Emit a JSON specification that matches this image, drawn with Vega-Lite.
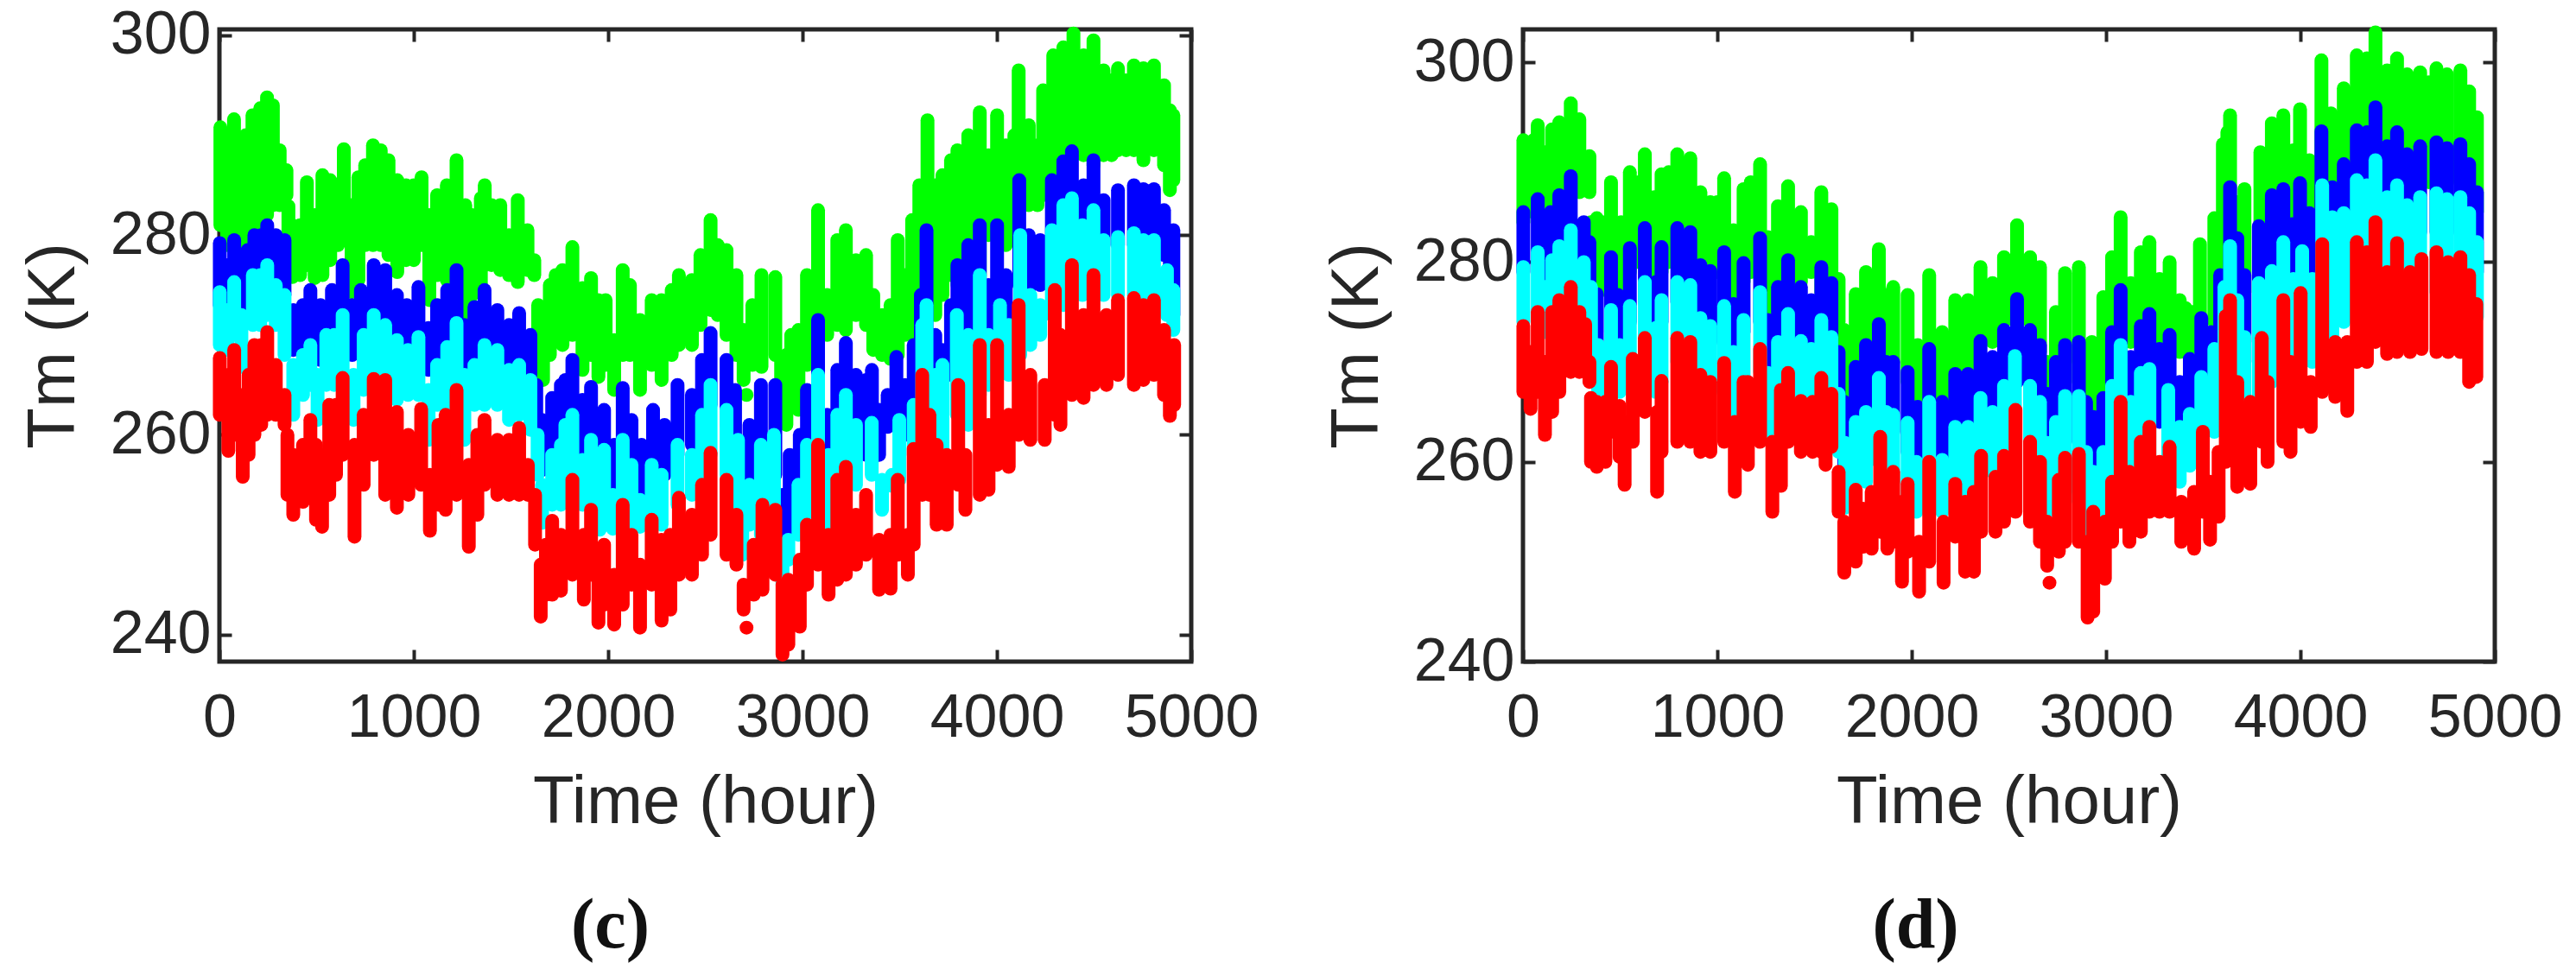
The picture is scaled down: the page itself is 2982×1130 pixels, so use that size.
{"$schema":"https://vega.github.io/schema/vega-lite/v6.json","background":"white","padding":{"left":20,"top":3,"right":0,"bottom":0},"spacing":69,"config":{"view":{"stroke":"#262626","strokeWidth":5},"axis":{"grid":false,"labelFont":"Liberation Sans","titleFont":"Liberation Sans","labelFontSize":70,"titleFontSize":78,"labelColor":"#262626","titleColor":"#262626","titleFontWeight":"normal","domain":false,"tickColor":"#262626","tickWidth":4,"tickSize":-14,"labelFlush":false,"labelOverlap":false,"format":"d"}},
"datasets":{"c":[
{"s":"g","t":5,"l":281,"h":290.8},{"s":"g","t":40,"l":279,"h":290},{"s":"g","t":75,"l":280,"h":291.6},{"s":"g","t":110,"l":278,"h":287.5},{"s":"g","t":135,"l":277,"h":290},{"s":"g","t":170,"l":279,"h":292},{"s":"g","t":210,"l":281,"h":292.7},{"s":"g","t":245,"l":282,"h":293.8},{"s":"g","t":275,"l":283,"h":293},{"s":"g","t":310,"l":283,"h":288.5},{"s":"g","t":345,"l":284,"h":286.5},{"s":"g","t":355,"l":279,"h":282.9},{"s":"g","t":375,"l":275.8,"h":281},{"s":"g","t":415,"l":276,"h":281},{"s":"g","t":450,"l":277,"h":285.3},{"s":"g","t":490,"l":275.7,"h":282},{"s":"g","t":530,"l":276,"h":286},{"s":"g","t":570,"l":277.5,"h":285.5},{"s":"g","t":610,"l":279,"h":284.5},{"s":"g","t":640,"l":279.5,"h":288.6},{"s":"g","t":680,"l":274.3,"h":283},{"s":"g","t":715,"l":275.5,"h":285.8},{"s":"g","t":750,"l":279,"h":287},{"s":"g","t":790,"l":279,"h":289},{"s":"g","t":830,"l":279,"h":288.5},{"s":"g","t":870,"l":278,"h":287.5},{"s":"g","t":915,"l":276.3,"h":285.5},{"s":"g","t":960,"l":277.5,"h":285},{"s":"g","t":1000,"l":277.5,"h":285},{"s":"g","t":1040,"l":279,"h":285.8},{"s":"g","t":1080,"l":273.5,"h":282},{"s":"g","t":1120,"l":276,"h":284},{"s":"g","t":1170,"l":275.5,"h":285},{"s":"g","t":1220,"l":277,"h":287.5},{"s":"g","t":1265,"l":271.8,"h":283},{"s":"g","t":1300,"l":274,"h":282},{"s":"g","t":1345,"l":274.5,"h":283.7},{"s":"g","t":1365,"l":277,"h":285},{"s":"g","t":1400,"l":277,"h":283},{"s":"g","t":1445,"l":276.5,"h":283},{"s":"g","t":1490,"l":276,"h":280},{"s":"g","t":1535,"l":275.3,"h":283.5},{"s":"g","t":1585,"l":276.5,"h":280.5},{"s":"g","t":1620,"l":276,"h":277.5},{"s":"g","t":1640,"l":268,"h":273},{"s":"g","t":1665,"l":265.5,"h":272},{"s":"g","t":1700,"l":268,"h":275},{"s":"g","t":1730,"l":269.5,"h":276},{"s":"g","t":1765,"l":269,"h":276.5},{"s":"g","t":1816,"l":270,"h":278.8},{"s":"g","t":1868,"l":266.5,"h":274.7},{"s":"g","t":1912,"l":268,"h":275.7},{"s":"g","t":1950,"l":265.8,"h":273.5},{"s":"g","t":1987,"l":267,"h":273.5},{"s":"g","t":2031,"l":264.5,"h":269.5},{"s":"g","t":2075,"l":268,"h":276.5},{"s":"g","t":2112,"l":268,"h":275},{"s":"g","t":2164,"l":264.5,"h":271.5},{"s":"g","t":2224,"l":267,"h":273.5},{"s":"g","t":2275,"l":265.5,"h":273.5},{"s":"g","t":2327,"l":268,"h":274.5},{"s":"g","t":2364,"l":269,"h":276},{"s":"g","t":2431,"l":269,"h":275.5},{"s":"g","t":2475,"l":271,"h":278},{"s":"g","t":2527,"l":272.5,"h":281.5},{"s":"g","t":2564,"l":272,"h":279},{"s":"g","t":2609,"l":270,"h":278.5},{"s":"g","t":2660,"l":268,"h":276},{"s":"g","t":2697,"l":265.5,"h":270.5},{"s":"g","t":2712,"l":264,"h":264},{"s":"g","t":2742,"l":267,"h":273},{"s":"g","t":2789,"l":266.8,"h":276},{"s":"g","t":2860,"l":268,"h":275.8},{"s":"g","t":2890,"l":264,"h":267.5},{"s":"g","t":2917,"l":261,"h":268},{"s":"g","t":2942,"l":263,"h":270},{"s":"g","t":2979,"l":262.5,"h":270.5},{"s":"g","t":3023,"l":267,"h":276},{"s":"g","t":3080,"l":269,"h":282.5},{"s":"g","t":3127,"l":270,"h":274},{"s":"g","t":3179,"l":271,"h":279.5},{"s":"g","t":3223,"l":270.5,"h":280.5},{"s":"g","t":3275,"l":272,"h":277.5},{"s":"g","t":3327,"l":271,"h":278},{"s":"g","t":3364,"l":268.5,"h":274},{"s":"g","t":3409,"l":268,"h":272},{"s":"g","t":3453,"l":267.6,"h":273},{"s":"g","t":3490,"l":268,"h":279.5},{"s":"g","t":3527,"l":270,"h":276},{"s":"g","t":3564,"l":270,"h":281.5},{"s":"g","t":3601,"l":271,"h":285},{"s":"g","t":3643,"l":272,"h":291.5},{"s":"g","t":3683,"l":272,"h":285},{"s":"g","t":3720,"l":274,"h":286},{"s":"g","t":3764,"l":276,"h":287.5},{"s":"g","t":3797,"l":275,"h":288.5},{"s":"g","t":3853,"l":278,"h":290},{"s":"g","t":3912,"l":276,"h":292.3},{"s":"g","t":3957,"l":280,"h":288},{"s":"g","t":4001,"l":280,"h":292},{"s":"g","t":4046,"l":279,"h":289},{"s":"g","t":4090,"l":281,"h":290},{"s":"g","t":4112,"l":282,"h":296.5},{"s":"g","t":4164,"l":283,"h":291},{"s":"g","t":4209,"l":283,"h":289},{"s":"g","t":4238,"l":284,"h":294.5},{"s":"g","t":4290,"l":284,"h":298},{"s":"g","t":4342,"l":286,"h":298.8},{"s":"g","t":4394,"l":288,"h":300.2},{"s":"g","t":4446,"l":288,"h":298},{"s":"g","t":4497,"l":287,"h":299.5},{"s":"g","t":4549,"l":288,"h":296.5},{"s":"g","t":4590,"l":288,"h":295.5},{"s":"g","t":4623,"l":288.5,"h":296.7},{"s":"g","t":4665,"l":288.5,"h":295.5},{"s":"g","t":4705,"l":288.5,"h":297},{"s":"g","t":4754,"l":287.5,"h":296.7},{"s":"g","t":4808,"l":288.5,"h":297},{"s":"g","t":4860,"l":287,"h":295},{"s":"g","t":4890,"l":284.5,"h":292.5},{"s":"g","t":4908,"l":285.5,"h":292},
{"s":"b","t":2,"l":273,"h":279.2},{"s":"b","t":40,"l":273,"h":277},{"s":"b","t":76,"l":274,"h":279.5},{"s":"b","t":113,"l":272,"h":275.6},{"s":"b","t":145,"l":273,"h":278.5},{"s":"b","t":180,"l":274,"h":280},{"s":"b","t":215,"l":274,"h":280},{"s":"b","t":246,"l":275,"h":281},{"s":"b","t":290,"l":275,"h":280},{"s":"b","t":335,"l":274,"h":279.5},{"s":"b","t":380,"l":268.5,"h":272.5},{"s":"b","t":430,"l":269,"h":273},{"s":"b","t":468,"l":269,"h":274.5},{"s":"b","t":520,"l":267.5,"h":273},{"s":"b","t":579,"l":270,"h":274.5},{"s":"b","t":634,"l":271,"h":277},{"s":"b","t":683,"l":268,"h":273},{"s":"b","t":728,"l":269,"h":274.5},{"s":"b","t":794,"l":270,"h":277},{"s":"b","t":853,"l":271,"h":276.5},{"s":"b","t":913,"l":268.5,"h":274},{"s":"b","t":964,"l":269,"h":273},{"s":"b","t":1024,"l":269,"h":274.8},{"s":"b","t":1076,"l":266.5,"h":270.7},{"s":"b","t":1120,"l":268,"h":273},{"s":"b","t":1172,"l":268,"h":274.5},{"s":"b","t":1220,"l":270,"h":276.5},{"s":"b","t":1260,"l":264.8,"h":271},{"s":"b","t":1312,"l":267.5,"h":272.8},{"s":"b","t":1364,"l":269,"h":274.5},{"s":"b","t":1430,"l":268,"h":272.5},{"s":"b","t":1490,"l":267.5,"h":271},{"s":"b","t":1542,"l":267.5,"h":272.2},{"s":"b","t":1600,"l":266,"h":270},{"s":"b","t":1630,"l":262,"h":265},{"s":"b","t":1660,"l":256.5,"h":261.5},{"s":"b","t":1712,"l":258,"h":263.7},{"s":"b","t":1757,"l":258,"h":265},{"s":"b","t":1780,"l":260,"h":265.5},{"s":"b","t":1816,"l":260,"h":267.5},{"s":"b","t":1868,"l":258.5,"h":263.5},{"s":"b","t":1912,"l":258,"h":264.8},{"s":"b","t":1979,"l":258.5,"h":262.5},{"s":"b","t":2031,"l":251.5,"h":259},{"s":"b","t":2075,"l":258,"h":264.7},{"s":"b","t":2120,"l":256,"h":261.5},{"s":"b","t":2172,"l":254.5,"h":259},{"s":"b","t":2231,"l":256,"h":262.5},{"s":"b","t":2290,"l":256,"h":261},{"s":"b","t":2357,"l":258,"h":265},{"s":"b","t":2431,"l":259,"h":264},{"s":"b","t":2483,"l":261,"h":267.5},{"s":"b","t":2527,"l":263,"h":270.2},{"s":"b","t":2609,"l":261,"h":267.5},{"s":"b","t":2653,"l":258,"h":264.5},{"s":"b","t":2683,"l":253,"h":258},{"s":"b","t":2727,"l":256,"h":261},{"s":"b","t":2786,"l":256,"h":265},{"s":"b","t":2860,"l":256,"h":265},{"s":"b","t":2897,"l":248.5,"h":254},{"s":"b","t":2934,"l":250,"h":258},{"s":"b","t":2986,"l":252,"h":260},{"s":"b","t":3023,"l":256,"h":264.5},{"s":"b","t":3080,"l":258,"h":271.5},{"s":"b","t":3127,"l":255,"h":262},{"s":"b","t":3179,"l":257,"h":266.5},{"s":"b","t":3223,"l":258,"h":269.2},{"s":"b","t":3275,"l":258,"h":266},{"s":"b","t":3327,"l":258,"h":265.5},{"s":"b","t":3357,"l":259,"h":266.5},{"s":"b","t":3394,"l":258,"h":262.5},{"s":"b","t":3438,"l":260.8,"h":264},{"s":"b","t":3483,"l":262,"h":267.8},{"s":"b","t":3527,"l":260,"h":265},{"s":"b","t":3572,"l":263,"h":269},{"s":"b","t":3609,"l":266,"h":274},{"s":"b","t":3638,"l":270,"h":280.5},{"s":"b","t":3683,"l":265,"h":270},{"s":"b","t":3720,"l":264,"h":268.5},{"s":"b","t":3764,"l":266,"h":273},{"s":"b","t":3797,"l":268,"h":277},{"s":"b","t":3853,"l":268,"h":279},{"s":"b","t":3912,"l":270,"h":281},{"s":"b","t":3957,"l":270,"h":275},{"s":"b","t":4001,"l":272,"h":281},{"s":"b","t":4046,"l":271,"h":276},{"s":"b","t":4115,"l":275,"h":285.5},{"s":"b","t":4164,"l":274,"h":280},{"s":"b","t":4223,"l":275,"h":279.5},{"s":"b","t":4283,"l":277,"h":285.5},{"s":"b","t":4342,"l":279,"h":287.4},{"s":"b","t":4386,"l":280,"h":288.4},{"s":"b","t":4446,"l":280,"h":285},{"s":"b","t":4497,"l":279,"h":287.5},{"s":"b","t":4549,"l":279,"h":283.5},{"s":"b","t":4623,"l":279,"h":284.5},{"s":"b","t":4705,"l":279,"h":285},{"s":"b","t":4754,"l":279,"h":284.6},{"s":"b","t":4808,"l":279,"h":284.6},{"s":"b","t":4860,"l":278,"h":282.5},{"s":"b","t":4890,"l":276,"h":279.5},{"s":"b","t":4908,"l":272,"h":280.5},
{"s":"c","t":2,"l":269,"h":274.3},{"s":"c","t":40,"l":268.5,"h":272.5},{"s":"c","t":76,"l":270,"h":275.3},{"s":"c","t":113,"l":266.8,"h":272},{"s":"c","t":172,"l":271,"h":276},{"s":"c","t":210,"l":271,"h":276},{"s":"c","t":246,"l":272,"h":277},{"s":"c","t":290,"l":271,"h":275},{"s":"c","t":335,"l":268,"h":274},{"s":"c","t":380,"l":262,"h":267},{"s":"c","t":430,"l":264,"h":268},{"s":"c","t":468,"l":265,"h":269},{"s":"c","t":505,"l":261.5,"h":266},{"s":"c","t":550,"l":265,"h":270},{"s":"c","t":590,"l":265,"h":270},{"s":"c","t":634,"l":266,"h":272},{"s":"c","t":690,"l":261.5,"h":266},{"s":"c","t":742,"l":264.5,"h":270},{"s":"c","t":794,"l":266,"h":272},{"s":"c","t":853,"l":265,"h":271},{"s":"c","t":913,"l":263.5,"h":269.5},{"s":"c","t":970,"l":264,"h":268.5},{"s":"c","t":1024,"l":264,"h":269.8},{"s":"c","t":1076,"l":259.5,"h":264.5},{"s":"c","t":1120,"l":263,"h":267},{"s":"c","t":1172,"l":263,"h":268.8},{"s":"c","t":1220,"l":263,"h":271.2},{"s":"c","t":1260,"l":259.5,"h":266},{"s":"c","t":1312,"l":263,"h":267},{"s":"c","t":1364,"l":263,"h":269},{"s":"c","t":1430,"l":263,"h":268.5},{"s":"c","t":1490,"l":261.5,"h":266.5},{"s":"c","t":1542,"l":262,"h":267},{"s":"c","t":1600,"l":260.5,"h":265.5},{"s":"c","t":1637,"l":256,"h":260},{"s":"c","t":1660,"l":251.2,"h":255},{"s":"c","t":1712,"l":253,"h":258},{"s":"c","t":1757,"l":253,"h":259},{"s":"c","t":1780,"l":255,"h":261},{"s":"c","t":1816,"l":256,"h":262},{"s":"c","t":1868,"l":253,"h":257.5},{"s":"c","t":1912,"l":253,"h":259.5},{"s":"c","t":1957,"l":250.5,"h":256},{"s":"c","t":1979,"l":252,"h":258.5},{"s":"c","t":2024,"l":250.6,"h":254},{"s":"c","t":2075,"l":253,"h":259.5},{"s":"c","t":2120,"l":251,"h":257},{"s":"c","t":2164,"l":250.8,"h":253.5},{"s":"c","t":2224,"l":251.5,"h":257},{"s":"c","t":2275,"l":251,"h":256},{"s":"c","t":2357,"l":253,"h":259},{"s":"c","t":2431,"l":254,"h":258},{"s":"c","t":2483,"l":256,"h":262},{"s":"c","t":2527,"l":258,"h":265},{"s":"c","t":2609,"l":256,"h":262.5},{"s":"c","t":2668,"l":253,"h":259.5},{"s":"c","t":2690,"l":248,"h":252},{"s":"c","t":2727,"l":251,"h":255},{"s":"c","t":2786,"l":250,"h":259},{"s":"c","t":2853,"l":251,"h":260},{"s":"c","t":2897,"l":245,"h":249},{"s":"c","t":2927,"l":247.5,"h":249.5},{"s":"c","t":2979,"l":250,"h":255},{"s":"c","t":3023,"l":252,"h":259},{"s":"c","t":3080,"l":254,"h":266},{"s":"c","t":3134,"l":251,"h":258},{"s":"c","t":3179,"l":254,"h":262},{"s":"c","t":3223,"l":255,"h":264},{"s":"c","t":3275,"l":255,"h":261},{"s":"c","t":3356,"l":256,"h":261.2},{"s":"c","t":3409,"l":252.5,"h":255.5},{"s":"c","t":3461,"l":254.9,"h":256},{"s":"c","t":3498,"l":255.5,"h":261.5},{"s":"c","t":3572,"l":258,"h":263},{"s":"c","t":3616,"l":260,"h":271},{"s":"c","t":3638,"l":264,"h":273},{"s":"c","t":3683,"l":258,"h":266},{"s":"c","t":3720,"l":258,"h":267},{"s":"c","t":3794,"l":262,"h":272},{"s":"c","t":3853,"l":261,"h":270},{"s":"c","t":3912,"l":264,"h":276},{"s":"c","t":3957,"l":265,"h":270},{"s":"c","t":4016,"l":267,"h":273},{"s":"c","t":4061,"l":266,"h":271},{"s":"c","t":4120,"l":268,"h":280},{"s":"c","t":4172,"l":269,"h":274},{"s":"c","t":4223,"l":270,"h":273},{"s":"c","t":4283,"l":272,"h":280.5},{"s":"c","t":4342,"l":273,"h":283},{"s":"c","t":4386,"l":275,"h":283.7},{"s":"c","t":4440,"l":274,"h":281},{"s":"c","t":4497,"l":274,"h":282.5},{"s":"c","t":4549,"l":274,"h":279.5},{"s":"c","t":4623,"l":274,"h":279.8},{"s":"c","t":4705,"l":274,"h":280.2},{"s":"c","t":4754,"l":273,"h":279.5},{"s":"c","t":4808,"l":274,"h":279.5},{"s":"c","t":4875,"l":272,"h":276.5},{"s":"c","t":4908,"l":270.5,"h":274.5},
{"s":"r","t":2,"l":262,"h":267.7},{"s":"r","t":46,"l":258.4,"h":266},{"s":"r","t":76,"l":260,"h":268.5},{"s":"r","t":120,"l":255.8,"h":264},{"s":"r","t":150,"l":258,"h":266},{"s":"r","t":180,"l":260,"h":269},{"s":"r","t":215,"l":261,"h":269},{"s":"r","t":246,"l":262,"h":270.3},{"s":"r","t":290,"l":262,"h":267},{"s":"r","t":335,"l":261,"h":264},{"s":"r","t":350,"l":254,"h":260},{"s":"r","t":380,"l":252,"h":258},{"s":"r","t":430,"l":253.3,"h":259},{"s":"r","t":468,"l":256,"h":261.5},{"s":"r","t":497,"l":251.5,"h":259},{"s":"r","t":528,"l":250.8,"h":258},{"s":"r","t":565,"l":254,"h":263},{"s":"r","t":600,"l":256,"h":263},{"s":"r","t":634,"l":258,"h":265.7},{"s":"r","t":695,"l":249.8,"h":259},{"s":"r","t":742,"l":255,"h":262},{"s":"r","t":794,"l":258,"h":265.6},{"s":"r","t":853,"l":254,"h":265.5},{"s":"r","t":913,"l":252.7,"h":262.3},{"s":"r","t":972,"l":254,"h":260},{"s":"r","t":1038,"l":255,"h":262.6},{"s":"r","t":1083,"l":250.4,"h":256},{"s":"r","t":1127,"l":253,"h":261},{"s":"r","t":1164,"l":252.5,"h":262},{"s":"r","t":1220,"l":254,"h":264.5},{"s":"r","t":1283,"l":248.8,"h":257},{"s":"r","t":1327,"l":252,"h":260},{"s":"r","t":1364,"l":255,"h":261.5},{"s":"r","t":1430,"l":254,"h":259.5},{"s":"r","t":1490,"l":254,"h":259.5},{"s":"r","t":1542,"l":254,"h":260.7},{"s":"r","t":1587,"l":254,"h":257},{"s":"r","t":1624,"l":249,"h":254},{"s":"r","t":1653,"l":241.8,"h":247},{"s":"r","t":1680,"l":244,"h":249},{"s":"r","t":1712,"l":244,"h":251.4},{"s":"r","t":1757,"l":244.4,"h":250},{"s":"r","t":1816,"l":246,"h":255.5},{"s":"r","t":1875,"l":243.5,"h":250},{"s":"r","t":1912,"l":246,"h":252.5},{"s":"r","t":1950,"l":241.2,"h":247},{"s":"r","t":1979,"l":243,"h":249},{"s":"r","t":2031,"l":241,"h":246},{"s":"r","t":2075,"l":243,"h":253},{"s":"r","t":2120,"l":245,"h":250},{"s":"r","t":2164,"l":240.7,"h":247},{"s":"r","t":2224,"l":245,"h":251.5},{"s":"r","t":2275,"l":241.4,"h":249.5},{"s":"r","t":2320,"l":242.5,"h":250},{"s":"r","t":2364,"l":246,"h":253.7},{"s":"r","t":2431,"l":246,"h":252},{"s":"r","t":2483,"l":248,"h":255},{"s":"r","t":2527,"l":250,"h":258.2},{"s":"r","t":2609,"l":248,"h":255.5},{"s":"r","t":2660,"l":247,"h":252},{"s":"r","t":2697,"l":242.5,"h":245},{"s":"r","t":2712,"l":240.7,"h":240.7},{"s":"r","t":2749,"l":244,"h":249},{"s":"r","t":2794,"l":244.5,"h":253},{"s":"r","t":2860,"l":246,"h":252.5},{"s":"r","t":2897,"l":238,"h":245},{"s":"r","t":2927,"l":239,"h":245.5},{"s":"r","t":2986,"l":240.8,"h":247.5},{"s":"r","t":3023,"l":245,"h":251},{"s":"r","t":3080,"l":247,"h":259},{"s":"r","t":3134,"l":244,"h":250},{"s":"r","t":3179,"l":245.5,"h":255.5},{"s":"r","t":3223,"l":246,"h":256.8},{"s":"r","t":3275,"l":247,"h":252},{"s":"r","t":3327,"l":248,"h":254},{"s":"r","t":3394,"l":244.5,"h":249.5},{"s":"r","t":3453,"l":244.6,"h":250},{"s":"r","t":3490,"l":248,"h":255.5},{"s":"r","t":3542,"l":246,"h":250},{"s":"r","t":3572,"l":249,"h":258.6},{"s":"r","t":3616,"l":254,"h":266},{"s":"r","t":3653,"l":254,"h":262},{"s":"r","t":3690,"l":251,"h":259},{"s":"r","t":3742,"l":251,"h":258},{"s":"r","t":3801,"l":255,"h":265},{"s":"r","t":3838,"l":252.5,"h":258},{"s":"r","t":3912,"l":254,"h":269},{"s":"r","t":3957,"l":254.5,"h":261},{"s":"r","t":4001,"l":257,"h":269},{"s":"r","t":4061,"l":256.8,"h":262},{"s":"r","t":4112,"l":260,"h":273},{"s":"r","t":4172,"l":259.5,"h":266},{"s":"r","t":4246,"l":259.5,"h":265},{"s":"r","t":4298,"l":262,"h":274.5},{"s":"r","t":4327,"l":261,"h":270},{"s":"r","t":4386,"l":264,"h":277},{"s":"r","t":4446,"l":263.7,"h":272},{"s":"r","t":4497,"l":265,"h":276},{"s":"r","t":4564,"l":265,"h":272},{"s":"r","t":4623,"l":266,"h":273.5},{"s":"r","t":4705,"l":265,"h":273.7},{"s":"r","t":4754,"l":265.5,"h":273},{"s":"r","t":4808,"l":266,"h":273.5},{"s":"r","t":4860,"l":264,"h":270.5},{"s":"r","t":4890,"l":261.9,"h":267},{"s":"r","t":4912,"l":263,"h":269}
],"d":[
{"s":"g","t":2,"l":284,"h":292.2},{"s":"g","t":54,"l":285,"h":292.2},{"s":"g","t":76,"l":286,"h":293.7},{"s":"g","t":113,"l":284,"h":291},{"s":"g","t":150,"l":284,"h":293.3},{"s":"g","t":187,"l":285,"h":294},{"s":"g","t":246,"l":287,"h":295.9},{"s":"g","t":290,"l":287,"h":294.3},{"s":"g","t":342,"l":287,"h":290.6},{"s":"g","t":350,"l":277,"h":284},{"s":"g","t":380,"l":278,"h":284.4},{"s":"g","t":424,"l":277.2,"h":284},{"s":"g","t":453,"l":279,"h":288},{"s":"g","t":505,"l":276.5,"h":284},{"s":"g","t":550,"l":279,"h":289},{"s":"g","t":594,"l":280,"h":288},{"s":"g","t":627,"l":281,"h":290.8},{"s":"g","t":676,"l":278,"h":286.5},{"s":"g","t":713,"l":279,"h":288.8},{"s":"g","t":750,"l":280,"h":289},{"s":"g","t":794,"l":281,"h":290.8},{"s":"g","t":861,"l":280,"h":290.4},{"s":"g","t":913,"l":278,"h":287},{"s":"g","t":964,"l":279,"h":286},{"s":"g","t":1000,"l":279,"h":286},{"s":"g","t":1035,"l":279,"h":288.4},{"s":"g","t":1083,"l":276,"h":283.2},{"s":"g","t":1135,"l":278,"h":287.3},{"s":"g","t":1172,"l":279,"h":288},{"s":"g","t":1220,"l":280,"h":289.8},{"s":"g","t":1260,"l":273,"h":282.5},{"s":"g","t":1312,"l":276,"h":285.6},{"s":"g","t":1364,"l":278,"h":287.6},{"s":"g","t":1430,"l":278,"h":285},{"s":"g","t":1483,"l":279,"h":282},{"s":"g","t":1535,"l":277,"h":287},{"s":"g","t":1587,"l":276,"h":285.3},{"s":"g","t":1624,"l":274,"h":278.3},{"s":"g","t":1653,"l":266,"h":273.2},{"s":"g","t":1712,"l":268,"h":276.8},{"s":"g","t":1765,"l":271,"h":279},{"s":"g","t":1831,"l":273,"h":281.3},{"s":"g","t":1868,"l":271,"h":276.7},{"s":"g","t":1905,"l":270,"h":277.5},{"s":"g","t":1979,"l":268,"h":276.7},{"s":"g","t":2031,"l":266,"h":271.7},{"s":"g","t":2090,"l":269,"h":278.7},{"s":"g","t":2157,"l":266,"h":273},{"s":"g","t":2224,"l":268,"h":276.2},{"s":"g","t":2290,"l":268,"h":276.2},{"s":"g","t":2354,"l":272,"h":279.5},{"s":"g","t":2416,"l":272,"h":277.9},{"s":"g","t":2475,"l":274,"h":280.5},{"s":"g","t":2542,"l":275,"h":283.7},{"s":"g","t":2609,"l":274,"h":280.5},{"s":"g","t":2660,"l":271,"h":279.5},{"s":"g","t":2697,"l":266,"h":270},{"s":"g","t":2742,"l":268,"h":275},{"s":"g","t":2789,"l":270,"h":278.9},{"s":"g","t":2860,"l":268,"h":279.5},{"s":"g","t":2897,"l":265,"h":271.5},{"s":"g","t":2927,"l":264,"h":272},{"s":"g","t":2986,"l":266,"h":276.5},{"s":"g","t":3031,"l":270,"h":280.5},{"s":"g","t":3075,"l":272,"h":284.5},{"s":"g","t":3127,"l":272,"h":277.9},{"s":"g","t":3179,"l":273,"h":281},{"s":"g","t":3223,"l":274,"h":282},{"s":"g","t":3275,"l":272,"h":278.3},{"s":"g","t":3327,"l":273,"h":280},{"s":"g","t":3379,"l":271,"h":276.2},{"s":"g","t":3409,"l":271,"h":275.4},{"s":"g","t":3446,"l":271.5,"h":275},{"s":"g","t":3483,"l":273,"h":281.8},{"s":"g","t":3557,"l":274,"h":284.4},{"s":"g","t":3601,"l":275,"h":291.8},{"s":"g","t":3624,"l":275,"h":293},{"s":"g","t":3638,"l":275,"h":294.7},{"s":"g","t":3675,"l":276,"h":286},{"s":"g","t":3712,"l":277,"h":287.3},{"s":"g","t":3794,"l":278,"h":291},{"s":"g","t":3853,"l":278,"h":293.9},{"s":"g","t":3912,"l":280,"h":294.7},{"s":"g","t":3964,"l":281,"h":291.2},{"s":"g","t":3998,"l":282,"h":295.3},{"s":"g","t":4046,"l":283,"h":290.2},{"s":"g","t":4108,"l":286,"h":300.2},{"s":"g","t":4157,"l":284,"h":294.9},{"s":"g","t":4223,"l":287,"h":297.4},{"s":"g","t":4290,"l":288,"h":300.7},{"s":"g","t":4342,"l":288,"h":300.4},{"s":"g","t":4386,"l":289,"h":303},{"s":"g","t":4446,"l":288,"h":299.2},{"s":"g","t":4497,"l":288,"h":300.4},{"s":"g","t":4549,"l":288,"h":298.8},{"s":"g","t":4616,"l":288,"h":299},{"s":"g","t":4660,"l":288,"h":298},{"s":"g","t":4700,"l":288,"h":299.4},{"s":"g","t":4754,"l":288,"h":298.8},{"s":"g","t":4823,"l":288,"h":299.2},{"s":"g","t":4868,"l":286,"h":297.1},{"s":"g","t":4908,"l":285,"h":294.5},
{"s":"b","t":2,"l":279,"h":285},{"s":"b","t":76,"l":280,"h":286.3},{"s":"b","t":113,"l":278,"h":282.4},{"s":"b","t":142,"l":279,"h":285},{"s":"b","t":187,"l":281,"h":286.7},{"s":"b","t":246,"l":282,"h":288.6},{"s":"b","t":313,"l":279,"h":284},{"s":"b","t":342,"l":276,"h":282},{"s":"b","t":380,"l":271,"h":276.8},{"s":"b","t":453,"l":273,"h":280.5},{"s":"b","t":490,"l":271,"h":276.7},{"s":"b","t":550,"l":274,"h":281.4},{"s":"b","t":627,"l":276,"h":283.4},{"s":"b","t":683,"l":272,"h":278},{"s":"b","t":713,"l":274,"h":281.5},{"s":"b","t":794,"l":276,"h":283.4},{"s":"b","t":861,"l":275,"h":283},{"s":"b","t":913,"l":272,"h":279.7},{"s":"b","t":964,"l":272,"h":279.1},{"s":"b","t":1035,"l":274,"h":281},{"s":"b","t":1083,"l":270,"h":275.8},{"s":"b","t":1135,"l":273,"h":279.9},{"s":"b","t":1220,"l":274,"h":282.4},{"s":"b","t":1260,"l":267,"h":274.2},{"s":"b","t":1312,"l":270,"h":277.5},{"s":"b","t":1364,"l":272,"h":280.2},{"s":"b","t":1430,"l":270,"h":277.5},{"s":"b","t":1483,"l":270,"h":276.2},{"s":"b","t":1535,"l":272,"h":279.5},{"s":"b","t":1587,"l":270,"h":277.9},{"s":"b","t":1624,"l":264,"h":271},{"s":"b","t":1653,"l":258,"h":266},{"s":"b","t":1712,"l":262,"h":269.5},{"s":"b","t":1765,"l":264,"h":271.7},{"s":"b","t":1831,"l":266,"h":273.8},{"s":"b","t":1868,"l":264,"h":270},{"s":"b","t":1905,"l":263,"h":270},{"s":"b","t":1979,"l":261,"h":269},{"s":"b","t":2031,"l":257,"h":265.5},{"s":"b","t":2090,"l":263,"h":271.3},{"s":"b","t":2157,"l":258,"h":266},{"s":"b","t":2224,"l":261,"h":268.8},{"s":"b","t":2290,"l":261,"h":268.8},{"s":"b","t":2354,"l":264,"h":272.1},{"s":"b","t":2416,"l":264,"h":270.5},{"s":"b","t":2475,"l":266,"h":273.2},{"s":"b","t":2542,"l":268,"h":276.3},{"s":"b","t":2609,"l":266,"h":273.2},{"s":"b","t":2660,"l":263,"h":271.7},{"s":"b","t":2697,"l":259,"h":266.8},{"s":"b","t":2742,"l":262,"h":270},{"s":"b","t":2789,"l":262,"h":271.7},{"s":"b","t":2860,"l":262,"h":272},{"s":"b","t":2897,"l":256,"h":266},{"s":"b","t":2934,"l":256,"h":264.5},{"s":"b","t":2986,"l":258,"h":266.4},{"s":"b","t":3031,"l":262,"h":273},{"s":"b","t":3075,"l":264,"h":277.2},{"s":"b","t":3127,"l":264,"h":270.5},{"s":"b","t":3179,"l":265,"h":273.6},{"s":"b","t":3223,"l":266,"h":274.8},{"s":"b","t":3275,"l":264,"h":271.3},{"s":"b","t":3327,"l":265,"h":272.7},{"s":"b","t":3379,"l":262,"h":268},{"s":"b","t":3431,"l":262,"h":270.3},{"s":"b","t":3490,"l":265,"h":274.4},{"s":"b","t":3542,"l":266,"h":273},{"s":"b","t":3587,"l":268,"h":278.7},{"s":"b","t":3638,"l":272,"h":287.5},{"s":"b","t":3675,"l":270,"h":282.4},{"s":"b","t":3712,"l":270,"h":278.7},{"s":"b","t":3786,"l":272,"h":283.6},{"s":"b","t":3853,"l":274,"h":286.7},{"s":"b","t":3912,"l":274,"h":287.3},{"s":"b","t":3957,"l":276,"h":283.8},{"s":"b","t":3998,"l":276,"h":287.9},{"s":"b","t":4046,"l":276,"h":284.9},{"s":"b","t":4108,"l":278,"h":293.1},{"s":"b","t":4164,"l":278,"h":287.5},{"s":"b","t":4223,"l":280,"h":289.8},{"s":"b","t":4290,"l":282,"h":293.2},{"s":"b","t":4342,"l":283,"h":293},{"s":"b","t":4386,"l":283,"h":295.5},{"s":"b","t":4446,"l":283,"h":291.6},{"s":"b","t":4497,"l":283,"h":293},{"s":"b","t":4549,"l":283,"h":290.8},{"s":"b","t":4616,"l":283,"h":291.6},{"s":"b","t":4700,"l":283,"h":292},{"s":"b","t":4754,"l":283,"h":291.4},{"s":"b","t":4823,"l":283,"h":291.8},{"s":"b","t":4868,"l":281,"h":289.8},{"s":"b","t":4908,"l":279,"h":287},
{"s":"c","t":2,"l":274,"h":279.5},{"s":"c","t":76,"l":275,"h":281},{"s":"c","t":113,"l":273,"h":277.5},{"s":"c","t":150,"l":274,"h":280.2},{"s":"c","t":187,"l":276,"h":281.6},{"s":"c","t":246,"l":276,"h":283.2},{"s":"c","t":313,"l":275,"h":280},{"s":"c","t":350,"l":271,"h":277.5},{"s":"c","t":387,"l":266,"h":271.7},{"s":"c","t":453,"l":268,"h":275.2},{"s":"c","t":497,"l":267,"h":271.7},{"s":"c","t":550,"l":269,"h":275.6},{"s":"c","t":627,"l":270,"h":278},{"s":"c","t":683,"l":267,"h":273.4},{"s":"c","t":713,"l":268,"h":276.2},{"s":"c","t":794,"l":270,"h":278},{"s":"c","t":861,"l":269,"h":277.7},{"s":"c","t":913,"l":267,"h":274.4},{"s":"c","t":964,"l":267,"h":273.6},{"s":"c","t":1035,"l":268,"h":275.6},{"s":"c","t":1083,"l":265,"h":271},{"s":"c","t":1135,"l":267,"h":274.2},{"s":"c","t":1220,"l":269,"h":277},{"s":"c","t":1260,"l":263,"h":268.9},{"s":"c","t":1312,"l":266,"h":272},{"s":"c","t":1364,"l":267,"h":274.8},{"s":"c","t":1430,"l":266,"h":272.1},{"s":"c","t":1483,"l":266,"h":271.3},{"s":"c","t":1535,"l":267,"h":274.2},{"s":"c","t":1587,"l":266,"h":272.5},{"s":"c","t":1624,"l":261,"h":266.8},{"s":"c","t":1657,"l":255.4,"h":261.9},{"s":"c","t":1712,"l":258,"h":264},{"s":"c","t":1765,"l":258,"h":265},{"s":"c","t":1831,"l":260,"h":268.4},{"s":"c","t":1868,"l":259,"h":265},{"s":"c","t":1905,"l":258,"h":264.7},{"s":"c","t":1979,"l":256,"h":263.9},{"s":"c","t":2024,"l":255,"h":260},{"s":"c","t":2090,"l":258,"h":266},{"s":"c","t":2157,"l":255,"h":260.2},{"s":"c","t":2224,"l":256,"h":263.5},{"s":"c","t":2290,"l":257,"h":263.5},{"s":"c","t":2354,"l":259,"h":266.4},{"s":"c","t":2416,"l":259,"h":265},{"s":"c","t":2475,"l":261,"h":267.6},{"s":"c","t":2531,"l":262,"h":270.6},{"s":"c","t":2609,"l":260,"h":267.6},{"s":"c","t":2660,"l":258,"h":266},{"s":"c","t":2697,"l":255,"h":261.9},{"s":"c","t":2742,"l":256,"h":264},{"s":"c","t":2789,"l":257,"h":266.6},{"s":"c","t":2860,"l":256,"h":266.6},{"s":"c","t":2897,"l":252,"h":261},{"s":"c","t":2934,"l":254,"h":259},{"s":"c","t":2986,"l":254,"h":261},{"s":"c","t":3031,"l":256,"h":267.6},{"s":"c","t":3075,"l":258,"h":271.7},{"s":"c","t":3127,"l":258,"h":266},{"s":"c","t":3179,"l":260,"h":268.9},{"s":"c","t":3223,"l":260,"h":269.3},{"s":"c","t":3320,"l":260,"h":267.2},{"s":"c","t":3379,"l":258,"h":263.5},{"s":"c","t":3431,"l":259.6,"h":264.8},{"s":"c","t":3490,"l":260,"h":268.5},{"s":"c","t":3557,"l":263,"h":271.3},{"s":"c","t":3609,"l":263,"h":277.5},{"s":"c","t":3638,"l":266,"h":281.6},{"s":"c","t":3675,"l":265,"h":276.2},{"s":"c","t":3712,"l":264,"h":272.5},{"s":"c","t":3786,"l":266,"h":277.9},{"s":"c","t":3853,"l":268,"h":279.1},{"s":"c","t":3912,"l":268,"h":282},{"s":"c","t":3964,"l":270,"h":278.3},{"s":"c","t":4009,"l":270,"h":281.1},{"s":"c","t":4061,"l":270,"h":278.3},{"s":"c","t":4112,"l":272,"h":287.7},{"s":"c","t":4164,"l":272,"h":284.5},{"s":"c","t":4223,"l":274,"h":284.9},{"s":"c","t":4290,"l":276,"h":288.2},{"s":"c","t":4342,"l":276,"h":287.7},{"s":"c","t":4386,"l":276,"h":290.2},{"s":"c","t":4446,"l":277,"h":286.5},{"s":"c","t":4497,"l":277,"h":287.7},{"s":"c","t":4549,"l":277,"h":285.7},{"s":"c","t":4616,"l":277,"h":286.5},{"s":"c","t":4700,"l":277,"h":286.9},{"s":"c","t":4754,"l":277,"h":286.3},{"s":"c","t":4823,"l":277,"h":286.5},{"s":"c","t":4868,"l":276,"h":284.9},{"s":"c","t":4908,"l":274.5,"h":282},
{"s":"r","t":2,"l":267,"h":273.6},{"s":"r","t":39,"l":265.3,"h":271},{"s":"r","t":76,"l":267,"h":275},{"s":"r","t":113,"l":262.7,"h":270},{"s":"r","t":150,"l":265,"h":275},{"s":"r","t":187,"l":267,"h":276.2},{"s":"r","t":246,"l":269,"h":277.5},{"s":"r","t":290,"l":269,"h":275},{"s":"r","t":320,"l":270,"h":273.8},{"s":"r","t":342,"l":268,"h":270},{"s":"r","t":350,"l":260,"h":266.4},{"s":"r","t":380,"l":259.5,"h":266},{"s":"r","t":424,"l":260,"h":266},{"s":"r","t":453,"l":263,"h":269.5},{"s":"r","t":497,"l":260.5,"h":265.6},{"s":"r","t":523,"l":257.7,"h":264},{"s":"r","t":565,"l":262,"h":270.3},{"s":"r","t":627,"l":265,"h":272.4},{"s":"r","t":690,"l":257,"h":265},{"s":"r","t":713,"l":261,"h":268.1},{"s":"r","t":794,"l":262,"h":272.4},{"s":"r","t":861,"l":262,"h":272},{"s":"r","t":913,"l":261,"h":268.7},{"s":"r","t":964,"l":261,"h":268},{"s":"r","t":1035,"l":262,"h":269.9},{"s":"r","t":1090,"l":257,"h":264},{"s":"r","t":1135,"l":261,"h":268},{"s":"r","t":1157,"l":259.7,"h":268},{"s":"r","t":1220,"l":262,"h":271.3},{"s":"r","t":1283,"l":255,"h":262},{"s":"r","t":1327,"l":257.6,"h":267.2},{"s":"r","t":1364,"l":262,"h":268.9},{"s":"r","t":1430,"l":261,"h":266.1},{"s":"r","t":1490,"l":261,"h":266},{"s":"r","t":1535,"l":261,"h":268.4},{"s":"r","t":1557,"l":259.7,"h":265},{"s":"r","t":1587,"l":261.5,"h":266.8},{"s":"r","t":1624,"l":255,"h":259},{"s":"r","t":1653,"l":248.9,"h":254},{"s":"r","t":1712,"l":250,"h":257.2},{"s":"r","t":1750,"l":251.5,"h":255.3},{"s":"r","t":1794,"l":251.3,"h":257},{"s":"r","t":1838,"l":253,"h":262.5},{"s":"r","t":1875,"l":251.3,"h":258},{"s":"r","t":1905,"l":252,"h":259},{"s":"r","t":1950,"l":248,"h":256},{"s":"r","t":1979,"l":251,"h":257.8},{"s":"r","t":2038,"l":247,"h":252},{"s":"r","t":2090,"l":250,"h":260},{"s":"r","t":2164,"l":247.9,"h":254},{"s":"r","t":2224,"l":252.5,"h":257.8},{"s":"r","t":2275,"l":249,"h":256},{"s":"r","t":2320,"l":249,"h":257},{"s":"r","t":2357,"l":253,"h":260.6},{"s":"r","t":2431,"l":253,"h":258.5},{"s":"r","t":2475,"l":254,"h":260.6},{"s":"r","t":2534,"l":255,"h":265.2},{"s":"r","t":2609,"l":254,"h":262},{"s":"r","t":2660,"l":252,"h":260},{"s":"r","t":2697,"l":249.6,"h":254},{"s":"r","t":2709,"l":247.9,"h":247.9},{"s":"r","t":2757,"l":251,"h":258.2},{"s":"r","t":2789,"l":252,"h":260.4},{"s":"r","t":2860,"l":252,"h":260.8},{"s":"r","t":2905,"l":244.4,"h":252},{"s":"r","t":2934,"l":245,"h":255},{"s":"r","t":2994,"l":248.3,"h":254},{"s":"r","t":3031,"l":252,"h":258},{"s":"r","t":3075,"l":254,"h":266},{"s":"r","t":3120,"l":252,"h":259},{"s":"r","t":3179,"l":253,"h":262},{"s":"r","t":3223,"l":255,"h":263.5},{"s":"r","t":3275,"l":255,"h":260},{"s":"r","t":3327,"l":255,"h":261.5},{"s":"r","t":3387,"l":252,"h":256},{"s":"r","t":3453,"l":251.3,"h":257},{"s":"r","t":3498,"l":255,"h":263},{"s":"r","t":3535,"l":252.2,"h":258},{"s":"r","t":3579,"l":254.5,"h":261},{"s":"r","t":3616,"l":260,"h":274.6},{"s":"r","t":3638,"l":262,"h":276.2},{"s":"r","t":3675,"l":257.5,"h":268},{"s":"r","t":3742,"l":257.8,"h":266},{"s":"r","t":3801,"l":262,"h":272.4},{"s":"r","t":3831,"l":260,"h":268},{"s":"r","t":3912,"l":262,"h":276.2},{"s":"r","t":3949,"l":261,"h":270},{"s":"r","t":4001,"l":264,"h":276.9},{"s":"r","t":4053,"l":263.5,"h":268},{"s":"r","t":4112,"l":267,"h":281.8},{"s":"r","t":4179,"l":266.5,"h":272},{"s":"r","t":4241,"l":265.1,"h":272},{"s":"r","t":4290,"l":270,"h":282},{"s":"r","t":4342,"l":270,"h":281},{"s":"r","t":4386,"l":272,"h":284},{"s":"r","t":4446,"l":270.8,"h":279},{"s":"r","t":4497,"l":271,"h":281.9},{"s":"r","t":4564,"l":271,"h":279},{"s":"r","t":4623,"l":271.3,"h":280.3},{"s":"r","t":4700,"l":271,"h":281},{"s":"r","t":4760,"l":271,"h":280},{"s":"r","t":4823,"l":271,"h":280.5},{"s":"r","t":4868,"l":268,"h":278.7},{"s":"r","t":4905,"l":268.5,"h":275.8}
]},
"hconcat":[
{"width":1125,"height":732,"title":{"text":"(c)","orient":"bottom","font":"Liberation Serif","fontWeight":"bold","fontSize":82,"color":"#111111","offset":64,"anchor":"middle","dx":-110},"resolve":{"axis":{"x":"independent","y":"independent"}},"layer":[
{"data":{"name":"c"},"mark":{"type":"rule","strokeWidth":16,"strokeCap":"round","clip":false},"encoding":{"x":{"field":"t","type":"quantitative","title":"Time (hour)","scale":{"domain":[0,5000],"nice":false},"axis":{"values":[0,1000,2000,3000,4000,5000],"labelPadding":45,"titlePadding":24,"grid":false}},"y":{"field":"l","type":"quantitative","title":"Tm (K)","scale":{"domain":[237.3,300.6],"nice":false,"zero":false},"axis":{"values":[240,260,280,300],"labelPadding":24,"titlePadding":26}},"y2":{"field":"h"},"color":{"field":"s","type":"nominal","scale":{"domain":["g","b","c","r"],"range":["#00ff00","#0000ff","#00ffff","#ff0000"]},"legend":null}}},
{"data":{"name":"c"},"transform":[{"filter":"false"}],"mark":{"type":"rule"},"encoding":{"x":{"field":"t","type":"quantitative","axis":{"orient":"top","values":[0,1000,2000,3000,4000,5000],"labels":false,"title":null}},"y":{"field":"l","type":"quantitative","axis":{"orient":"right","values":[240,260,280,300],"labels":false,"title":null}}}}
]},
{"width":1125,"height":732,"title":{"text":"(d)","orient":"bottom","font":"Liberation Serif","fontWeight":"bold","fontSize":82,"color":"#111111","offset":64,"anchor":"middle","dx":-108},"resolve":{"axis":{"x":"independent","y":"independent"}},"layer":[
{"data":{"name":"d"},"mark":{"type":"rule","strokeWidth":16,"strokeCap":"round","clip":false},"encoding":{"x":{"field":"t","type":"quantitative","title":"Time (hour)","scale":{"domain":[0,5000],"nice":false},"axis":{"values":[0,1000,2000,3000,4000,5000],"labelPadding":45,"titlePadding":24,"grid":false}},"y":{"field":"l","type":"quantitative","title":"Tm (K)","scale":{"domain":[240,303.3],"nice":false,"zero":false},"axis":{"values":[240,260,280,300],"labelPadding":24,"titlePadding":26}},"y2":{"field":"h"},"color":{"field":"s","type":"nominal","scale":{"domain":["g","b","c","r"],"range":["#00ff00","#0000ff","#00ffff","#ff0000"]},"legend":null}}},
{"data":{"name":"d"},"transform":[{"filter":"false"}],"mark":{"type":"rule"},"encoding":{"x":{"field":"t","type":"quantitative","axis":{"orient":"top","values":[0,1000,2000,3000,4000,5000],"labels":false,"title":null}},"y":{"field":"l","type":"quantitative","axis":{"orient":"right","values":[240,260,280,300],"labels":false,"title":null}}}}
]}
]}
